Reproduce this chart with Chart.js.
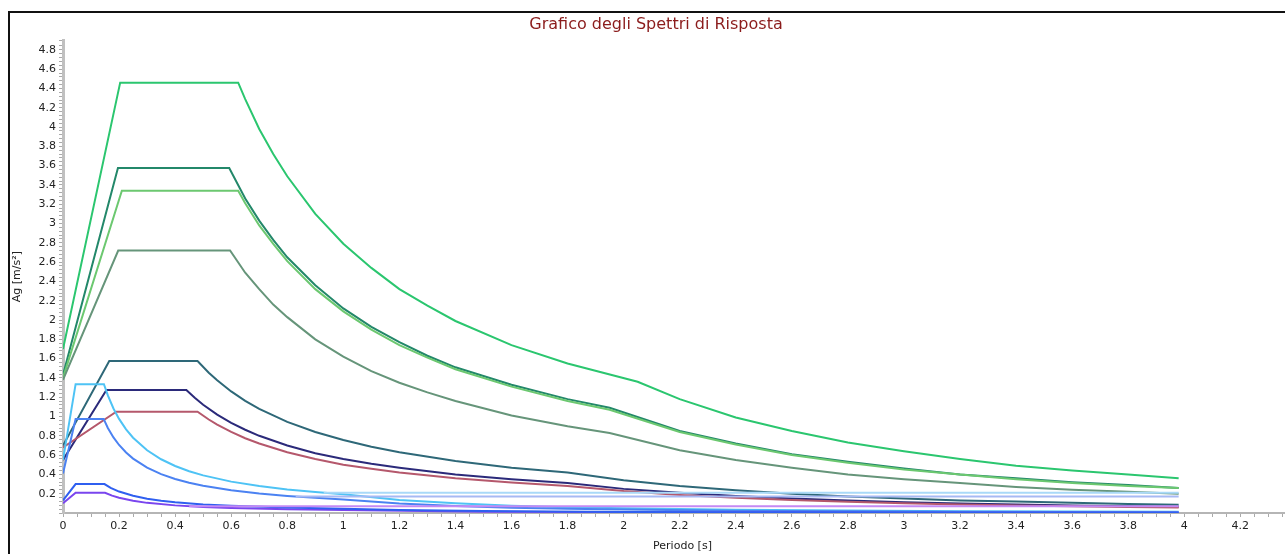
<!DOCTYPE html>
<html>
<head>
<meta charset="utf-8">
<script src="https://cdn.jsdelivr.net/npm/chart.js@4.4.1/dist/chart.umd.min.js"></script>
<style>
body { margin:0; background:#fff; overflow:hidden; }
#cornice { position:absolute; left:8px; top:11px; width:1300px; height:600px; border:2px solid #111; }
#grafico { position:absolute; left:0; top:0; }
</style>
</head>
<body>
<div id="cornice"></div>
<canvas id="grafico" width="1305" height="554"></canvas>
<script>
// spettri : [periodo (s), Ag (m/s2)]
const verdeChiaro = [[0,1.70],[0.204,4.46],[0.625,4.46],[0.65,4.29],[0.7,3.98],[0.75,3.72],[0.8,3.49],[0.9,3.10],[1.0,2.79],[1.1,2.54],[1.2,2.32],[1.3,2.15],[1.4,1.99],[1.6,1.74],[1.8,1.55],[2.05,1.36],[2.2,1.18],[2.4,0.99],[2.6,0.85],[2.8,0.73],[3.0,0.64],[3.2,0.56],[3.4,0.49],[3.6,0.44],[3.8,0.40],[3.98,0.36]];
const verdeScuro = [[0,1.43],[0.196,3.575],[0.593,3.575],[0.65,3.26],[0.7,3.03],[0.75,2.83],[0.8,2.65],[0.9,2.36],[1.0,2.12],[1.1,1.93],[1.2,1.77],[1.3,1.63],[1.4,1.51],[1.6,1.33],[1.8,1.18],[1.95,1.09],[2.2,0.85],[2.4,0.72],[2.6,0.61],[2.8,0.53],[3.0,0.46],[3.2,0.40],[3.4,0.36],[3.6,0.32],[3.8,0.29],[3.98,0.26]];
const verdeMedio = [[0,1.40],[0.21,3.34],[0.625,3.34],[0.65,3.21],[0.7,2.98],[0.75,2.79],[0.8,2.61],[0.9,2.32],[1.0,2.09],[1.1,1.90],[1.2,1.74],[1.3,1.61],[1.4,1.49],[1.6,1.31],[1.8,1.16],[1.95,1.07],[2.2,0.84],[2.4,0.71],[2.6,0.60],[2.8,0.52],[3.0,0.45],[3.2,0.40],[3.4,0.35],[3.6,0.31],[3.8,0.28],[3.98,0.26]];
const verdeGrigio = [[0,1.38],[0.197,2.72],[0.596,2.72],[0.65,2.49],[0.7,2.32],[0.75,2.16],[0.8,2.03],[0.9,1.80],[1.0,1.62],[1.1,1.47],[1.2,1.35],[1.3,1.25],[1.4,1.16],[1.6,1.01],[1.8,0.90],[1.95,0.83],[2.2,0.65],[2.4,0.55],[2.6,0.47],[2.8,0.40],[3.0,0.35],[3.2,0.31],[3.4,0.27],[3.6,0.24],[3.8,0.22],[3.98,0.20]];
const petrolio = [[0,0.70],[0.165,1.575],[0.48,1.575],[0.52,1.454],[0.55,1.375],[0.6,1.26],[0.65,1.163],[0.7,1.08],[0.8,0.945],[0.9,0.84],[1.0,0.756],[1.1,0.687],[1.2,0.63],[1.4,0.54],[1.6,0.47],[1.8,0.42],[2.0,0.34],[2.2,0.28],[2.4,0.236],[2.6,0.20],[2.8,0.17],[3.0,0.15],[3.2,0.13],[3.4,0.118],[3.6,0.105],[3.8,0.094],[3.98,0.086]];
const blu = [[0,0.55],[0.155,1.275],[0.44,1.275],[0.47,1.194],[0.5,1.122],[0.55,1.02],[0.6,0.935],[0.65,0.863],[0.7,0.80],[0.8,0.70],[0.9,0.62],[1.0,0.56],[1.1,0.51],[1.2,0.47],[1.4,0.40],[1.6,0.35],[1.8,0.31],[2.0,0.25],[2.2,0.21],[2.4,0.175],[2.6,0.15],[2.8,0.13],[3.0,0.112],[3.2,0.099],[3.4,0.087],[3.6,0.078],[3.8,0.07],[3.98,0.064]];
const rosso = [[0,0.68],[0.19,1.05],[0.48,1.05],[0.52,0.969],[0.55,0.916],[0.6,0.84],[0.65,0.775],[0.7,0.72],[0.8,0.63],[0.9,0.56],[1.0,0.50],[1.1,0.458],[1.2,0.42],[1.4,0.36],[1.6,0.315],[1.8,0.28],[2.0,0.227],[2.2,0.187],[2.4,0.157],[2.6,0.134],[2.8,0.116],[3.0,0.10],[3.2,0.089],[3.4,0.078],[3.6,0.07],[3.8,0.063],[3.98,0.057]];
const celeste = [[0,0.55],[0.045,1.335],[0.146,1.335],[0.16,1.219],[0.18,1.083],[0.2,0.975],[0.225,0.867],[0.25,0.78],[0.3,0.65],[0.35,0.557],[0.4,0.4875],[0.45,0.433],[0.5,0.39],[0.6,0.325],[0.7,0.279],[0.8,0.244],[0.9,0.217],[1.0,0.195],[1.2,0.135],[1.4,0.10],[1.6,0.076],[1.8,0.06],[2.0,0.049],[2.4,0.034],[2.8,0.025],[3.2,0.019],[3.6,0.015],[3.98,0.012]];
const celesteMin = [[0.93,0.21],[3.98,0.21]];
const azzurro = [[0,0.41],[0.045,0.975],[0.145,0.975],[0.16,0.881],[0.18,0.783],[0.2,0.705],[0.225,0.627],[0.25,0.564],[0.3,0.47],[0.35,0.403],[0.4,0.3525],[0.45,0.313],[0.5,0.282],[0.6,0.235],[0.7,0.201],[0.8,0.176],[0.9,0.157],[1.0,0.141],[1.2,0.098],[1.4,0.072],[1.6,0.055],[1.8,0.0435],[2.0,0.035],[2.4,0.0245],[2.8,0.018],[3.2,0.0138],[3.6,0.0109],[3.98,0.0089]];
const azzurroMin = [[0.83,0.17],[3.98,0.17]];
const bluPiccolo = [[0,0.13],[0.045,0.30],[0.148,0.30],[0.17,0.261],[0.2,0.222],[0.25,0.178],[0.3,0.148],[0.35,0.127],[0.4,0.111],[0.5,0.089],[0.6,0.074],[0.8,0.056],[1.0,0.044],[1.2,0.031],[1.5,0.02],[2.0,0.011],[2.5,0.007],[3.0,0.005],[3.98,0.003]];
const viola = [[0,0.10],[0.045,0.21],[0.15,0.21],[0.175,0.18],[0.2,0.158],[0.25,0.126],[0.3,0.105],[0.4,0.079],[0.5,0.063],[0.6,0.0525],[0.8,0.039],[1.0,0.0315],[1.5,0.014],[2.0,0.008],[3.0,0.0035],[3.98,0.002]];
const lilla = [[0.45,0.07],[3.98,0.07]];

const nomiSerie = ["lilla","celesteMin","azzurroMin","bluPiccolo","viola","azzurro","celeste","rosso","blu","petrolio","verdeGrigio","verdeMedio","verdeScuro","verdeChiaro"];
const serie = [lilla,celesteMin,azzurroMin,bluPiccolo,viola,azzurro,celeste,rosso,blu,petrolio,verdeGrigio,verdeMedio,verdeScuro,verdeChiaro];
const colori = ["#c489f4","#a9d9f8","#a7b9f4","#2f5ff0","#7a45ee","#4b82f2","#4ec3f5","#b5586c","#2b2a7a","#2e6878","#66957a","#6cc870","#23886a","#2bc66f"];

const passoX = 0.05, passoY = 0.04, passoEtichetta = 0.2;

function etichetta(v){
  let q = v / passoEtichetta;
  if (Math.abs(q - Math.round(q)) > 1e-6) return "";
  return String(Math.round(v * 10) / 10);
}

let datasets = [];
serie.forEach((s, i) => {
  datasets.push({
    label: nomiSerie[i],
    data: s.map(p => ({x: p[0], y: p[1]})),
    borderColor: colori[i],
    borderWidth: 2,
    pointRadius: 0,
    fill: false,
    tension: 0
  });
});

const ctx = document.getElementById("grafico").getContext("2d");

new Chart(ctx, {
  type: "line",
  data: { datasets: datasets },
  options: {
    responsive: false,
    animation: false,
    layout: { padding: { left: 10, right: 3, top: 0, bottom: 0 } },
    plugins: {
      legend: { display: false },
      tooltip: { enabled: false },
      title: {
        display: true,
        text: "Grafico degli Spettri di Risposta",
        color: "#8b1c1c",
        font: { family: "DejaVu Sans", size: 16, weight: "normal" },
        padding: { top: 15, bottom: 6 }
      }
    },
    scales: {
      x: {
        type: "linear",
        min: 0, max: 4.42,
        grid: { drawOnChartArea: false, drawTicks: true, tickLength: 4, color: "#aaa" },
        border: { color: "#b5b5b5", width: 2 },
        ticks: { stepSize: passoX, autoSkip: false, maxRotation: 0, padding: 3, color: "#222",
                 font: { family: "DejaVu Sans", size: 11 }, callback: etichetta },
        title: { display: true, text: "Periodo [s]", color: "#222",
                 font: { family: "DejaVu Sans", size: 11 }, padding: { top: 2, bottom: 1 } },
        afterFit: function(scale){ scale.height = 41; }
      },
      y: {
        min: 0, max: 4.9,
        grid: { drawOnChartArea: false, drawTicks: true, tickLength: 4, color: "#aaa" },
        border: { color: "#c0c0c0", width: 3 },
        ticks: { stepSize: passoY, autoSkip: false, padding: 3, color: "#222",
                 font: { family: "DejaVu Sans", size: 11 },
                 callback: function(v){ return v === 0 ? "" : etichetta(v); } },
        title: { display: true, text: "Ag [m/s²]", color: "#222",
                 font: { family: "DejaVu Sans", size: 11 }, padding: { top: 1, bottom: 1 } },
        afterFit: function(scale){ scale.width = 53; }
      }
    }
  }
});
</script>
</body>
</html>
